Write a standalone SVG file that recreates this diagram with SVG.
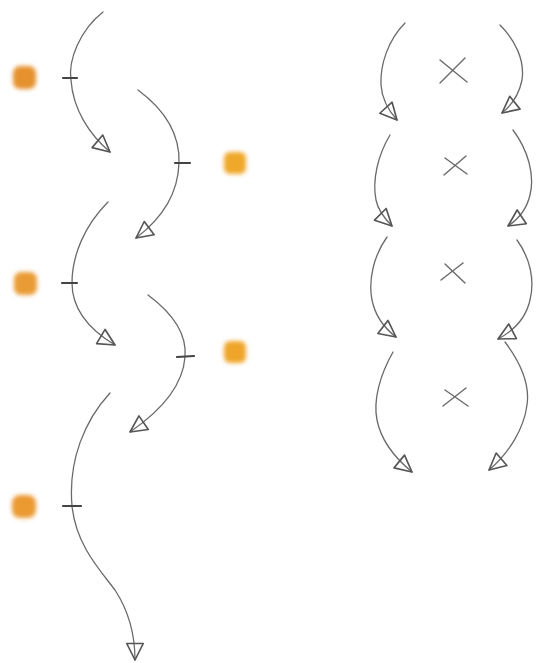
<svg xmlns="http://www.w3.org/2000/svg" width="536" height="663" viewBox="0 0 536 663">
<style>
.c{fill:none;stroke:#6a6a6a;stroke-width:1.3;stroke-linecap:round}
.t{stroke:#444;stroke-width:2.2;stroke-linecap:round}
.x{stroke:#6a6a6a;stroke-width:1.4;stroke-linecap:round}
.dot{filter:url(#blur)}
</style>
<defs>
<filter id="blur" x="-1" y="-1" width="3" height="3"><feGaussianBlur stdDeviation="2"/></filter>
<marker id="ah" markerUnits="userSpaceOnUse" viewBox="-2 -2 24 24" markerWidth="22" markerHeight="22" refX="18" refY="9" orient="auto">
<path d="M0,0 L18,9 L0,18 Z" fill="none" stroke="#555" stroke-width="1.8" stroke-linejoin="round"/>
</marker>
</defs>
<rect width="536" height="663" fill="#ffffff"/>
<g id="nodes">
<g id="dot1"><rect class="dot" x="13" y="66" width="23" height="23" rx="7" fill="#e5912e"/></g>
<g id="dot2"><rect class="dot" x="224" y="152" width="22" height="22" rx="6" fill="#efa82a"/></g>
<g id="dot3"><rect class="dot" x="14" y="272" width="23" height="23" rx="7" fill="#e99b34"/></g>
<g id="dot4"><rect class="dot" x="224" y="341" width="22" height="22" rx="6" fill="#efa52a"/></g>
<g id="dot5"><rect class="dot" x="12" y="495" width="24" height="23" rx="8" fill="#eb9a33"/></g>
<g id="x1"><line class="x" x1="440" y1="83" x2="465" y2="58"/><line class="x" x1="440" y1="60" x2="467" y2="82"/></g>
<g id="x2"><line class="x" x1="444" y1="175" x2="466" y2="156"/><line class="x" x1="445" y1="158" x2="467" y2="174"/></g>
<g id="x3"><line class="x" x1="441" y1="280" x2="463" y2="263"/><line class="x" x1="445" y1="264" x2="465" y2="283"/></g>
<g id="x4"><line class="x" x1="443" y1="406" x2="466" y2="388"/><line class="x" x1="445" y1="390" x2="468" y2="406"/></g>
</g>
<g id="connectors">
<path class="c" marker-end="url(#ah)" d="M103,12 C80,30 68,60 71,80 C73,110 90,135 110,152"/>
<path class="c" marker-end="url(#ah)" d="M138,90 C165,110 180,135 179,163 C178,195 160,220 136,238"/>
<path class="c" marker-end="url(#ah)" d="M108,202 C85,225 72,255 72,283 C72,310 90,330 115,345"/>
<path class="c" marker-end="url(#ah)" d="M148,295 C175,315 187,335 185,357 C183,385 162,410 130,432"/>
<path class="c" marker-end="url(#ah)" d="M110,393 C85,420 68,460 72,506 C76,545 100,570 115,590 C128,610 135,635 135,660"/>
<line class="t" x1="63" y1="78" x2="77" y2="78"/>
<line class="t" x1="175" y1="163" x2="190" y2="163"/>
<line class="t" x1="62" y1="283" x2="77" y2="283"/>
<line class="t" x1="177" y1="357" x2="194" y2="356"/>
<line class="t" x1="63" y1="506" x2="81" y2="506"/>
<path class="c" marker-end="url(#ah)" d="M405,23 C388,40 380,65 381,85 C382,100 388,110 397,120"/>
<path class="c" marker-end="url(#ah)" d="M500,25 C515,40 525,60 522,80 C519,95 512,105 502,113"/>
<path class="c" marker-end="url(#ah)" d="M390,135 C378,155 372,180 376,200 C378,210 384,218 392,226"/>
<path class="c" marker-end="url(#ah)" d="M513,130 C528,150 535,175 530,195 C527,208 520,218 508,226"/>
<path class="c" marker-end="url(#ah)" d="M387,237 C374,255 368,280 372,300 C375,315 383,327 396,337"/>
<path class="c" marker-end="url(#ah)" d="M517,240 C530,258 535,280 530,300 C526,318 515,330 498,339"/>
<path class="c" marker-end="url(#ah)" d="M393,352 C380,375 373,400 377,420 C381,440 395,458 412,472"/>
<path class="c" marker-end="url(#ah)" d="M505,342 C520,362 530,385 527,405 C524,428 510,452 489,470"/>
</g>
</svg>
